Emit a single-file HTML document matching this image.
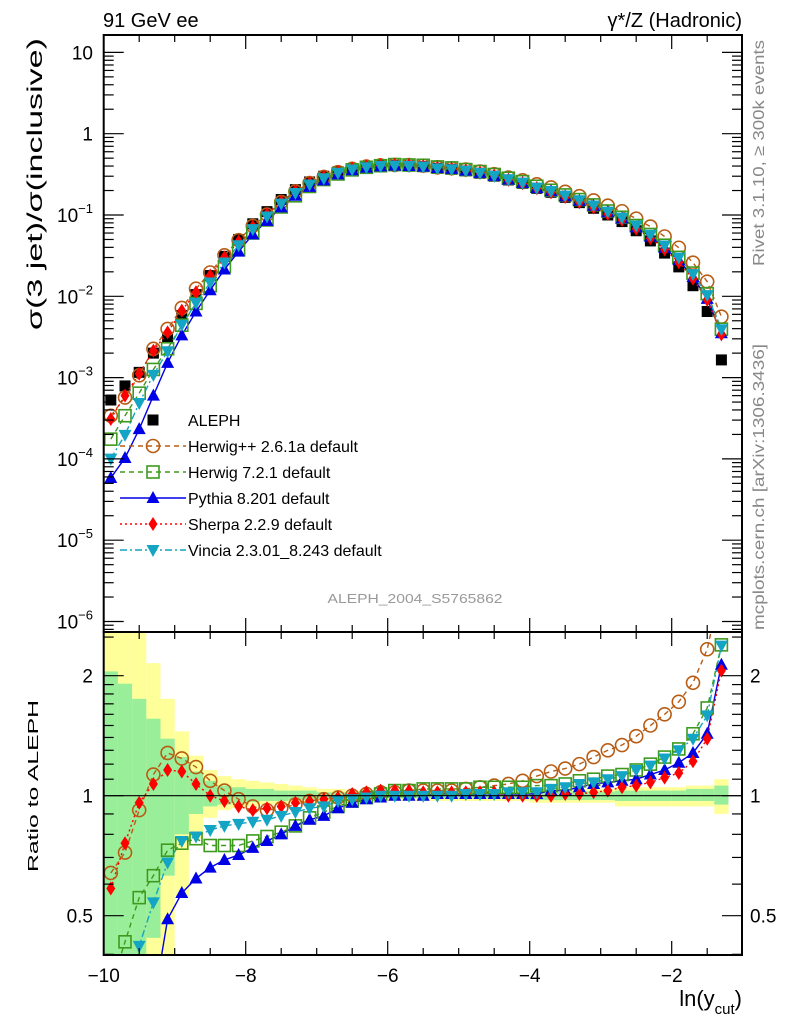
<!DOCTYPE html>
<html><head><meta charset="utf-8"><style>
html,body{margin:0;padding:0;background:#fff;overflow:hidden;width:786px;height:1024px;}
svg{display:block;font-family:"Liberation Sans",sans-serif;}
</style></head><body>
<svg id="chart" width="786" height="1024" viewBox="0 0 786 1024" xmlns="http://www.w3.org/2000/svg">
<defs>
<clipPath id="cm"><rect x="103.7" y="35" width="638.3" height="597"/></clipPath>
<clipPath id="cr"><rect x="103.7" y="632" width="638.3" height="323"/></clipPath>
</defs>
<g id="bands" clip-path="url(#cr)"></g>
<g id="grid"></g>
<g id="mainSeries" clip-path="url(#cm)"></g>
<g id="ratioSeries" clip-path="url(#cr)"></g>
<g id="axes"></g>
<text x="103" y="27" font-size="20">91 GeV ee</text>
<text x="742" y="27" font-size="20" text-anchor="end">γ*/Z (Hadronic)</text>
<text transform="translate(764,266) rotate(-90)" font-size="16" fill="#888" textLength="226" lengthAdjust="spacingAndGlyphs">Rivet 3.1.10, ≥ 300k events</text>
<text transform="translate(764,630) rotate(-90)" font-size="16" fill="#888" textLength="286" lengthAdjust="spacingAndGlyphs">mcplots.cern.ch [arXiv:1306.3436]</text>
<text x="415" y="603" font-size="13" fill="#999" text-anchor="middle" textLength="175" lengthAdjust="spacingAndGlyphs">ALEPH_2004_S5765862</text>
<text transform="translate(42,330) rotate(-90)" font-size="21" textLength="292" lengthAdjust="spacingAndGlyphs">σ(3 jet)/σ(inclusive)</text>
<text transform="translate(38,872) rotate(-90)" font-size="15" textLength="172" lengthAdjust="spacingAndGlyphs">Ratio to ALEPH</text>
<text x="742" y="1006" font-size="22" text-anchor="end">ln(y<tspan font-size="15" dy="8">cut</tspan><tspan dy="-8">)</tspan></text>
<g id="legend"></g>
</svg>
<script>
const xs = [];
for (let i = 0; i < 44; i++) xs.push(-9.9 + 0.2 * i);
const aleph = [5.3e-4,7.9e-4,1.16e-3,2.0e-3,3.1e-3,5.8e-3,0.0105,0.018,0.031,0.050,0.078,0.11,0.155,0.205,0.255,0.30,0.34,0.37,0.39,0.40,0.405,0.40,0.393,0.375,0.365,0.348,0.326,0.30,0.27,0.245,0.213,0.19,0.165,0.142,0.121,0.10,0.083,0.064,0.048,0.034,0.023,0.0135,0.0065,0.00165];
const rHerwigpp = [0.64,0.72,0.92,1.13,1.28,1.24,1.18,1.09,1.03,0.98,0.94,0.92,0.93,0.95,0.97,0.98,0.99,1.0,1.01,1.02,1.02,1.03,1.03,1.03,1.03,1.04,1.05,1.06,1.07,1.09,1.12,1.15,1.17,1.2,1.25,1.30,1.34,1.41,1.50,1.60,1.72,1.92,2.33,3.4];
const rHerwig7 = [0.33,0.43,0.555,0.63,0.73,0.76,0.78,0.75,0.75,0.75,0.77,0.79,0.81,0.84,0.88,0.91,0.94,0.97,0.99,1.01,1.03,1.03,1.04,1.04,1.04,1.04,1.05,1.05,1.05,1.05,1.06,1.06,1.07,1.09,1.1,1.12,1.13,1.16,1.2,1.25,1.31,1.43,1.66,2.39];
const rPythia = [0.11,0.13,0.2,0.3,0.49,0.57,0.62,0.66,0.69,0.71,0.74,0.77,0.80,0.84,0.87,0.89,0.93,0.96,0.98,0.99,1.0,1.0,1.0,1.01,1.01,1.01,1.01,1.01,1.01,1.01,1.01,1.03,1.03,1.05,1.07,1.08,1.09,1.1,1.13,1.16,1.21,1.28,1.43,2.13];
const rSherpa = [0.585,0.76,0.96,1.07,1.16,1.15,1.07,1.0,0.97,0.94,0.92,0.93,0.94,0.96,0.97,0.98,0.99,1.01,1.02,1.03,1.03,1.03,1.02,1.02,1.02,1.02,1.02,1.02,1.0,1.0,1.0,1.0,1.01,1.01,1.02,1.03,1.05,1.06,1.08,1.11,1.14,1.22,1.39,2.06];
const rVincia = [0.19,0.25,0.42,0.54,0.68,0.77,0.79,0.82,0.84,0.85,0.86,0.87,0.89,0.91,0.93,0.94,0.97,0.98,0.99,1.0,1.0,1.0,1.0,1.0,1.0,1.01,1.01,1.01,1.02,1.02,1.02,1.04,1.05,1.07,1.08,1.1,1.12,1.16,1.19,1.24,1.30,1.39,1.59,2.38];
const yellowUp = [3,3,3,2.15,1.75,1.45,1.26,1.16,1.12,1.10,1.09,1.08,1.07,1.06,1.05,1.04,1.04,1.03,1.03,1.03,1.03,1.03,1.03,1.03,1.03,1.03,1.03,1.03,1.03,1.03,1.04,1.04,1.04,1.04,1.04,1.04,1.05,1.05,1.05,1.05,1.05,1.06,1.06,1.10];
const greenUp = [2.05,1.91,1.75,1.56,1.39,1.25,1.15,1.09,1.06,1.05,1.04,1.04,1.03,1.03,1.03,1.02,1.02,1.02,1.015,1.015,1.015,1.015,1.015,1.015,1.015,1.015,1.015,1.015,1.015,1.015,1.025,1.025,1.025,1.025,1.025,1.025,1.03,1.03,1.03,1.03,1.03,1.04,1.04,1.06];
const greenLo = [0.3,0.3,0.3,0.44,0.63,0.80,0.90,0.94,0.95,0.96,0.965,0.97,0.97,0.975,0.975,0.98,0.98,0.985,0.985,0.985,0.985,0.985,0.985,0.985,0.985,0.985,0.985,0.985,0.985,0.985,0.975,0.975,0.975,0.975,0.975,0.975,0.97,0.97,0.97,0.97,0.97,0.97,0.97,0.95];
const yellowLo = [0.3,0.3,0.3,0.3,0.3,0.56,0.78,0.88,0.92,0.93,0.94,0.95,0.95,0.96,0.96,0.965,0.965,0.97,0.97,0.97,0.97,0.97,0.97,0.97,0.97,0.97,0.97,0.97,0.97,0.97,0.96,0.96,0.96,0.96,0.96,0.96,0.94,0.94,0.94,0.94,0.94,0.94,0.94,0.90];
const xTicks = [-10,-8,-6,-4,-2];
const mainTicks = [1,0,-1,-2,-3,-4,-5,-6];
const ratioTicks = [0.5,1,2];

const NS = 'http://www.w3.org/2000/svg';
const X = x => 103.7 + 71 * (x + 10);
const Ym = v => 133.7 - 81.3 * Math.log10(v);
const Yr = r => 795.7 - 120 * Math.log2(r);
function mk(tag, attrs, parent) {
  const e = document.createElementNS(NS, tag);
  for (const k in attrs) e.setAttribute(k, attrs[k]);
  parent.appendChild(e);
  return e;
}
const bands = document.getElementById('bands');
const axes = document.getElementById('axes');
const mainG = document.getElementById('mainSeries');
const ratG = document.getElementById('ratioSeries');
const leg = document.getElementById('legend');

function band(up, lo, col, name) {
  for (let i = 0; i < xs.length; i++) {
    const x0 = X(xs[i] - 0.1), x1 = X(xs[i] + 0.1);
    const r = mk('rect', {x: x0, y: Yr(Math.min(up[i], 3)), width: x1 - x0, height: Yr(Math.max(lo[i], 0.3)) - Yr(Math.min(up[i], 3)), fill: col}, bands);
    
    
  }
}
band(yellowUp, yellowLo, '#ffff99', 'yellow-band');
band(greenUp, greenLo, '#99ee99', 'green-band');
const one = mk('line', {x1: 103.7, x2: 742, y1: Yr(1), y2: Yr(1), stroke: '#000', 'stroke-width': 1.2}, axes);



for (const [y0, y1, nm] of [[35, 632, 'main-frame'], [632, 955, 'ratio-frame']]) {
  const f = mk('rect', {x: 103.7, y: y0, width: 638.3, height: y1 - y0, fill: 'none', stroke: '#000', 'stroke-width': 2}, axes);
  
  
}
for (let t = -10; t <= -1.01; t += 0.5) {
  const major = Math.abs(t - Math.round(t)) < 1e-6 && Math.round(t) % 2 === 0;
  const len = major ? 14 : 7;
  for (const [yb, dir] of [[35, 1], [632, -1], [632, 1], [955, -1]]) {
    mk('line', {x1: X(t), x2: X(t), y1: yb, y2: yb + dir * len, stroke: '#000', 'stroke-width': 1.2}, axes);
  }
}
for (const t of xTicks) {
  const tx = mk('text', {x: X(t), y: 982, 'font-size': 19, 'text-anchor': 'middle'}, axes);
  tx.textContent = '\u2212' + Math.abs(t);
  
  
}
for (let d = -7; d <= 1; d++) {
  for (let m = 1; m <= 9; m++) {
    const v = m * Math.pow(10, d);
    const y = Ym(v);
    if (y < 35 || y > 632) continue;
    const len = m === 1 ? 20 : 10;
    mk('line', {x1: 103.7, x2: 103.7 + len, y1: y, y2: y, stroke: '#000', 'stroke-width': 1.2}, axes);
    mk('line', {x1: 742, x2: 742 - len, y1: y, y2: y, stroke: '#000', 'stroke-width': 1.2}, axes);
  }
}
for (const e of mainTicks) {
  const tx = mk('text', {x: 93, y: Ym(Math.pow(10, e)) + 7, 'font-size': 19, 'text-anchor': 'end'}, axes);
  if (e === 1) tx.textContent = '10';
  else if (e === 0) tx.textContent = '1';
  else {
    tx.textContent = '10';
    const s = mk('tspan', {dy: -9, 'font-size': 13}, tx);
    s.textContent = '\u2212' + Math.abs(e);
  }
  
  
}
for (const r of [0.4,0.5,0.6,0.7,0.8,0.9,1,1.1,1.2,1.3,1.4,1.5,1.6,1.7,1.8,1.9,2,2.5]) {
  const y = Yr(r);
  if (y < 632 || y > 955) continue;
  const len = ratioTicks.includes(r) ? 20 : 10;
  mk('line', {x1: 103.7, x2: 103.7 + len, y1: y, y2: y, stroke: '#000', 'stroke-width': 1.2}, axes);
  mk('line', {x1: 742, x2: 742 - len, y1: y, y2: y, stroke: '#000', 'stroke-width': 1.2}, axes);
}
for (const r of ratioTicks) {
  for (const [x, anc] of [[93, 'end'], [750, 'start']]) {
    const tx = mk('text', {x: x, y: Yr(r) + 7, 'font-size': 19, 'text-anchor': anc}, axes);
    tx.textContent = String(r);
    
    
  }
}

function marker(kind, x, y, col, parent) {
  let e;
  if (kind === 'sq') e = mk('rect', {x: x - 5.5, y: y - 5.5, width: 11, height: 11, fill: '#000'}, parent);
  else if (kind === 'circ') e = mk('circle', {cx: x, cy: y, r: 6.5, fill: 'none', stroke: col, 'stroke-width': 1.6}, parent);
  else if (kind === 'osq') e = mk('rect', {x: x - 6, y: y - 6, width: 12, height: 12, fill: 'none', stroke: col, 'stroke-width': 1.6}, parent);
  else if (kind === 'tri') e = mk('path', {d: `M${x},${y-7}L${x+6.5},${y+5}L${x-6.5},${y+5}Z`, fill: col}, parent);
  else if (kind === 'dia') e = mk('path', {d: `M${x},${y-7}L${x+4.5},${y}L${x},${y+7}L${x-4.5},${y}Z`, fill: col}, parent);
  else e = mk('path', {d: `M${x},${y+7}L${x+6.5},${y-5}L${x-6.5},${y-5}Z`, fill: col}, parent);
  return e;
}
const series = [
  {name: 'herwigpp', label: 'Herwig++ 2.6.1a default', r: rHerwigpp, col: '#b85c14', kind: 'circ', dash: '5,4'},
  {name: 'herwig7', label: 'Herwig 7.2.1 default', r: rHerwig7, col: '#3e9a1e', kind: 'osq', dash: '5,4'},
  {name: 'pythia', label: 'Pythia 8.201 default', r: rPythia, col: '#0000e6', kind: 'tri', dash: ''},
  {name: 'sherpa', label: 'Sherpa 2.2.9 default', r: rSherpa, col: '#ff0000', kind: 'dia', dash: '2,3'},
  {name: 'vincia', label: 'Vincia 2.3.01_8.243 default', r: rVincia, col: '#14a4c4', kind: 'dtri', dash: '7,3,2,3'}
];
aleph.forEach((v, i) => {
  const m = marker('sq', X(xs[i]), Ym(v), '#000', mainG);
  
  
});
for (const s of series) {
  let dm = '', dr = '';
  s.r.forEach((r, i) => {
    const px = X(xs[i]);
    dm += (i ? 'L' : 'M') + px + ',' + Ym(aleph[i] * r);
    dr += (i ? 'L' : 'M') + px + ',' + Yr(r);
  });
  for (const [g, d, nm] of [[mainG, dm, s.name + '-line'], [ratG, dr, s.name + '-ratio-line']]) {
    const p = mk('path', {d: d, fill: 'none', stroke: s.col, 'stroke-width': 1.4}, g);
    if (s.dash) p.setAttribute('stroke-dasharray', s.dash);
    
    
  }
}
for (const s of series) {
  s.r.forEach((r, i) => {
    const a = marker(s.kind, X(xs[i]), Ym(aleph[i] * r), s.col, mainG);
    
    
    const b = marker(s.kind, X(xs[i]), Yr(r), s.col, ratG);
    
    
  });
}

const legRows = [{label: 'ALEPH', kind: 'sq', col: '#000', dash: null}].concat(series);
legRows.forEach((s, k) => {
  const y = 420 + 26 * k;
  const g = mk('g', {}, leg);
  
  
  if (s.dash !== null) {
    const l = mk('line', {x1: 120, x2: 186, y1: y, y2: y, stroke: s.col, 'stroke-width': 1.4}, g);
    if (s.dash) l.setAttribute('stroke-dasharray', s.dash);
  }
  marker(s.kind, 153, y, s.col, g);
  const t = mk('text', {x: 188, y: y + 6, 'font-size': 16}, g);
  t.textContent = s.label;
});
</script>
</body></html>
